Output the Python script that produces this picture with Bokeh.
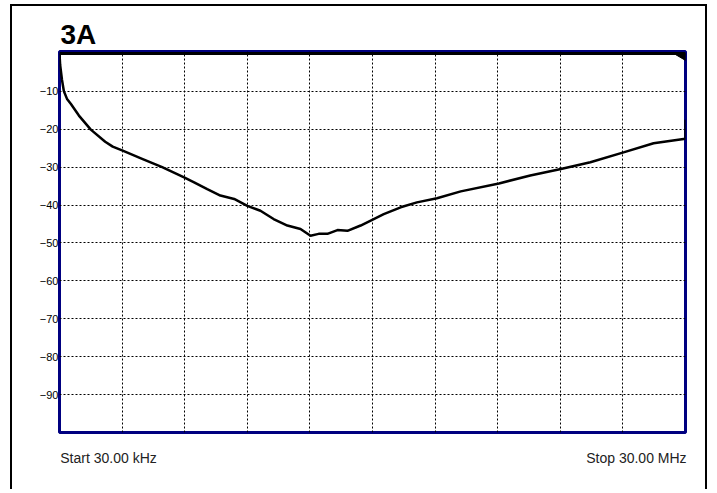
from bokeh.plotting import figure
from bokeh.models import Range1d, FixedTicker
from bokeh.embed import file_html
from bokeh.resources import INLINE

# ---- data ----
freq_mhz = [0.030, 0.060, 0.150, 0.240, 0.390, 0.569, 0.959, 1.529, 2.218, 2.578,
            3.027, 3.986, 4.945, 5.994, 6.474, 7.103, 7.732, 8.392, 9.021, 9.650,
            10.280, 10.939, 11.568, 12.048, 12.438, 12.857, 13.337, 13.816, 14.446,
            15.075, 15.554, 16.364, 17.143, 18.102, 19.241, 21.069, 22.568, 24.036,
            25.445, 27.033, 28.472, 29.910, 30.000, 30.000]
level_db = [0.0, -3.0, -7.0, -10.0, -12.0, -13.3, -16.4, -20.1, -23.3, -24.6,
            -25.6, -27.8, -30.0, -32.7, -34.0, -35.8, -37.5, -38.4, -40.2, -41.5,
            -43.7, -45.4, -46.3, -48.1, -47.6, -47.6, -46.6, -46.8, -45.4,
            -43.7, -42.4, -40.6, -39.3, -38.2, -36.4, -34.3, -32.2, -30.5,
            -28.7, -26.1, -23.7, -22.6, -22.4, -17.5]
ref_x = [0.03, 30.0]
ref_y = [0.0, 0.0]
marker_x = [29.43, 30.0, 30.0]
marker_y = [0.0, 0.0, -1.85]
f_start, f_stop = 0.03, 30.0
x_grid = [f_start + i * (f_stop - f_start) / 10 for i in range(1, 10)]
y_ticks = [-90, -80, -70, -60, -50, -40, -30, -20, -10]
title_text = "3A"
start_text = "Start 30.00 kHz"
stop_text = "Stop 30.00 MHz"
start_pos = 2.376   # centre of the start annotation
stop_pos = 27.65    # centre of the stop annotation

p = figure(width=697, height=485, output_backend="svg", toolbar_location=None,
           x_range=Range1d(f_start, f_stop), y_range=Range1d(-100, 0.5),
           min_border_left=47, min_border_right=24, min_border_top=45,
           min_border_bottom=59)
p.styles = {"margin-left": "10px", "margin-top": "4px",
            "border-left": "2px solid black", "border-right": "2px solid black",
            "border-top": "2px solid black"}
p.background_fill_color = "white"
p.border_fill_color = "white"
p.outline_line_color = "#000080"
p.outline_line_width = 3

p.title.text = title_text
p.title.text_font = "Liberation Sans"
p.title.text_font_style = "bold"
p.title.text_font_size = "28px"
p.title.text_color = "black"
p.title.align = "left"
p.title.offset = 1
p.title.standoff = 3

p.xgrid.ticker = FixedTicker(ticks=x_grid)
p.ygrid.ticker = FixedTicker(ticks=y_ticks)
for g in (p.xgrid, p.ygrid):
    g.grid_line_color = "black"
    g.grid_line_dash = "2 2"
    g.grid_line_width = 1
    g.grid_line_alpha = 1.0

xa = p.xaxis[0]
xa.ticker = FixedTicker(ticks=[start_pos, stop_pos])
xa.major_label_overrides = {start_pos: start_text, stop_pos: stop_text}
xa.axis_line_color = None
xa.major_tick_line_color = None
xa.minor_tick_line_color = None
xa.major_tick_in = 0
xa.major_tick_out = 0
xa.minor_tick_in = 0
xa.minor_tick_out = 0
xa.major_label_standoff = 17
xa.major_label_text_font = "Liberation Sans"
xa.major_label_text_font_size = "14px"
xa.major_label_text_color = "#222222"

ya = p.yaxis[0]
ya.ticker = FixedTicker(ticks=y_ticks)
ya.axis_line_color = None
ya.major_tick_line_color = None
ya.minor_tick_line_color = None
ya.major_tick_in = 0
ya.major_tick_out = 0
ya.minor_tick_in = 0
ya.minor_tick_out = 0
ya.major_label_standoff = 1
ya.major_label_text_font = "Liberation Sans"
ya.major_label_text_font_size = "11px"
ya.major_label_text_color = "black"

p.line(ref_x, ref_y, line_color="black", line_width=3)
p.line(freq_mhz, level_db, line_color="black", line_width=2.5)
p.patch(marker_x, marker_y, fill_color="black", line_color="black")

open("out.html", "w").write(file_html(p, INLINE))
